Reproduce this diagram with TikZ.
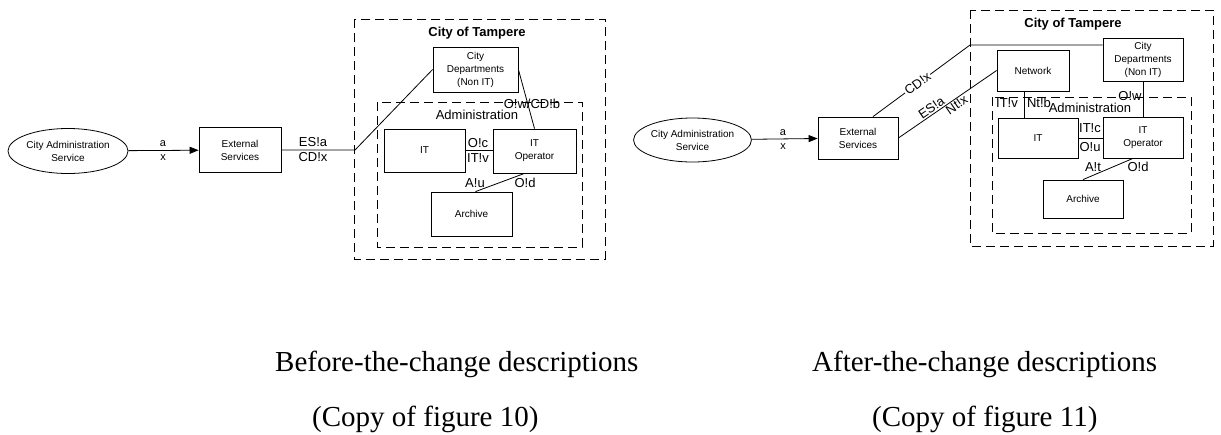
\documentclass[tikz,border=0pt]{standalone}
\usepackage{fontspec}
\setmainfont{Liberation Serif}
\newfontfamily\diagfont{Liberation Sans}
\usetikzlibrary{shapes.geometric,arrows.meta}

\begin{document}
\begin{tikzpicture}[x=1pt,y=-1pt,
    box/.style={draw,line width=0.8pt,align=center,inner sep=1pt,font=\diagfont\fontsize{10}{13}\selectfont},
    oval/.style={draw,ellipse,line width=0.8pt,align=center,inner sep=0pt,font=\diagfont\fontsize{10}{13}\selectfont},
    lbl/.style={inner sep=1pt,font=\diagfont\fontsize{13}{15}\selectfont},
    msg/.style={inner sep=1pt,font=\diagfont\fontsize{11}{13}\selectfont},
    frame/.style={dash pattern=on 9pt off 5pt,line width=0.9pt},
    link/.style={line width=0.8pt},
    captext/.style={anchor=base west,inner sep=0pt,font=\fontsize{29}{34}\selectfont}]
    \useasboundingbox (0,0) rectangle (1221,434);

    % Before the change
    \draw[frame] (354,19) rectangle (605,259);
    \draw[frame] (377,102) rectangle (582,247);
    \node[lbl,font=\diagfont\bfseries\fontsize{13}{15}\selectfont] (tampL) at (477,33) {City of Tampere};
    \node[lbl] (admL) at (477,115) {Administration};
    \node[oval,minimum width=120pt,minimum height=45pt] (casL) at (68,151) {City Administration\\Service};
    \node[box,minimum width=82pt,minimum height=45pt] (esL) at (240,150) {External\\Services};
    \node[box,minimum width=85pt,minimum height=45pt] (cdL) at (475.5,69.5) {City\\Departments\\(Non IT)};
    \node[box,minimum width=81pt,minimum height=43pt] (itL) at (424.5,150.5) {IT};
    \node[box,minimum width=83pt,minimum height=44pt] (itopL) at (534.5,151) {IT\\Operator};
    \node[box,minimum width=81pt,minimum height=44pt] (arL) at (471.5,214) {Archive};
    \coordinate (bendL) at (355,150);
    \draw[link,-{Triangle[length=9pt,width=7pt]}] (casL) -- (esL);
    \draw[link] (esL.east) -- (bendL) -- (cdL.west);
    \draw[link] (cdL.east) -- (itopL.north);
    \draw[link] (itL.east) -- (itL.east -| itopL.west);
    \draw[link] ([xshift=-10pt]itopL.south) -- ([xshift=4pt]arL.north);
    \node[msg] (aL) at (163,144) {a};
    \node[msg] (xL) at (163,158) {x};
    \node[lbl] (esaL) at (313,142) {ES!a};
    \node[lbl] (cdxL) at (313,157) {CD!x};
    \node[lbl] (ocL) at (478,143) {O!c};
    \node[lbl] (itvL) at (478,158) {IT!v};
    \node[lbl] (auL) at (475,183) {A!u};
    \node[lbl] (odL) at (525,183) {O!d};
    \node[lbl] (owL) at (532,104) {O!w/CD!b};

    % After the change
    \draw[frame] (970,10) rectangle (1213,246);
    \draw[frame] (992,97) rectangle (1191,233);
    \node[lbl,font=\diagfont\bfseries\fontsize{13}{15}\selectfont] (tampR) at (1073,24) {City of Tampere};
    \node[lbl] (admR) at (1090,108) {Administration};
    \node[oval,minimum width=115pt,minimum height=44pt] (casR) at (692.5,140) {City Administration\\Service};
    \node[box,minimum width=80pt,minimum height=42pt] (esR) at (858,138) {External\\Services};
    \node[box,minimum width=80pt,minimum height=43pt] (cdR) at (1143,59.5) {City\\Departments\\(Non IT)};
    \node[box,minimum width=72pt,minimum height=41pt] (nwR) at (1033,70.5) {Network};
    \node[box,minimum width=80pt,minimum height=40pt] (itR) at (1038,138) {IT};
    \node[box,minimum width=80pt,minimum height=41pt] (itopR) at (1143,137.5) {IT\\Operator};
    \node[box,minimum width=80pt,minimum height=38pt] (arR) at (1083,199) {Archive};
    \coordinate (bendR) at (970,45);
    \draw[link,-{Triangle[length=9pt,width=7pt]}] (casR) -- (esR);
    \draw[link] ([xshift=15pt]esR.north) -- node[lbl,sloped,fill=white,pos=0.46] (cdxR) {CD!x} (bendR) -- (bendR -| cdR.west);
    \draw[link] (esR.east) -- node[lbl,sloped,above,pos=0.37] (esaR) {ES!a} node[lbl,sloped,below,pos=0.56] (ntxR) {Nt!x} (nwR.west);
    \draw[link] ([xshift=-9pt]nwR.south) -- ([xshift=-9pt]nwR.south |- itR.north);
    \draw[link] (cdR.south) -- (itopR.north);
    \draw[link] (itR.east) -- (itR.east -| itopR.west);
    \draw[link] ([xshift=-10pt]itopR.south) -- (arR.north);
    \node[msg] (aR) at (783,133) {a};
    \node[msg] (xR) at (783,147) {x};
    \node[lbl] (itvR) at (1007,103) {IT!v};
    \node[lbl] (ntbR) at (1039,103) {Nt!b};
    \node[lbl] (owR) at (1130,96) {O!w};
    \node[lbl] (itcR) at (1090,128) {IT!c};
    \node[lbl] (ouR) at (1090,147) {O!u};
    \node[lbl] (atR) at (1093,167) {A!t};
    \node[lbl] (odR) at (1138,167) {O!d};

    % Captions
    \node[captext] (capL) at (275,371) {Before-the-change descriptions};
    \node[captext] (figL) at (312,426) {(Copy of figure 10)};
    \node[captext] (capR) at (812,371) {After-the-change descriptions};
    \node[captext] (figR) at (872,426) {(Copy of figure 11)};
\end{tikzpicture}
\end{document}
